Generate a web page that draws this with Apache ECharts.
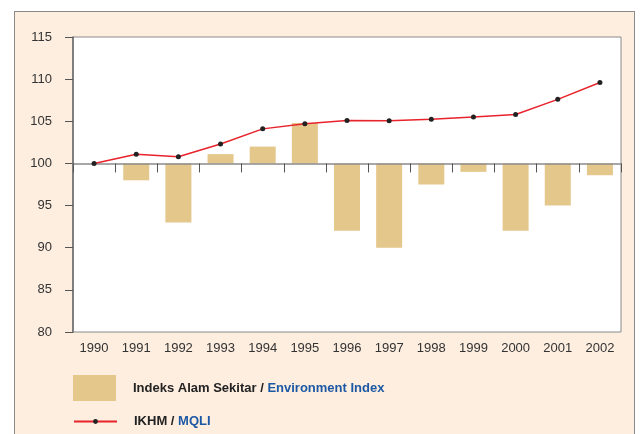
<!DOCTYPE html>
<html>
<head>
<meta charset="utf-8">
<script src="https://cdn.jsdelivr.net/npm/echarts@6/dist/echarts.min.js"></script>
<style>
  html, body { margin: 0; padding: 0; background: #ffffff; }
  #frame { position: absolute; left: 14px; top: 11px; width: 621px; height: 440px;
           background: #fdeee0; border: 1px solid #8a8a8a; box-sizing: border-box; }
  #chart { position: absolute; left: 0; top: 0; width: 642px; height: 434px; }
</style>
</head>
<body>
<div id="frame"></div>
<div id="chart"></div>
<script>
const years = ['1990','1991','1992','1993','1994','1995','1996','1997','1998','1999','2000','2001','2002'];
const environmentIndex = [100, 98, 93, 101.1, 102, 104.8, 92, 90, 97.5, 99, 92, 95, 98.6];
const mqli = [100, 101.1, 100.8, 102.3, 104.1, 104.7, 105.1, 105.05, 105.25, 105.5, 105.8, 107.6, 109.6];
const yTicks = [80, 85, 90, 95, 100, 105, 110, 115];
const BASE = 100;

const chart = echarts.init(document.getElementById('chart'), null, { renderer: 'canvas' });
const font = 'Liberation Sans, Arial, sans-serif';

chart.setOption({
  backgroundColor: 'transparent',
  textStyle: { fontFamily: font },
  animation: false,
  grid: {
    left: 73, top: 37, right: 21, bottom: 102,
    show: true, backgroundColor: '#ffffff', borderColor: '#8a8a8a', borderWidth: 1
  },
  legend: [
    {
      data: ['Indeks Alam Sekitar'],
      left: 73, top: 375, padding: 0, itemWidth: 43, itemHeight: 26, icon: 'rect',
      selectedMode: false,
      formatter: () => '{a|Indeks Alam Sekitar / }{b|Environment Index}',
      textStyle: {
        padding: [0, 0, 0, 12],
        rich: {
          a: { fontWeight: 'bold', color: '#222222', fontSize: 13, fontFamily: font },
          b: { fontWeight: 'bold', color: '#1c58a4', fontSize: 13, fontFamily: font }
        }
      }
    },
    {
      data: ['IKHM'],
      left: 73, top: 415, padding: 0, itemWidth: 43, itemHeight: 6,
      selectedMode: false,
      formatter: () => '{a|IKHM / }{b|MQLI}',
      textStyle: {
        padding: [0, 0, 0, 12],
        rich: {
          a: { fontWeight: 'bold', color: '#222222', fontSize: 13, fontFamily: font },
          b: { fontWeight: 'bold', color: '#1c58a4', fontSize: 13, fontFamily: font }
        }
      }
    }
  ],
  xAxis: [
    {
      type: 'category', data: years, position: 'bottom', z: 3,
      axisLine: { onZero: true, lineStyle: { color: '#8a8a8a', width: 1.5 } },
      axisTick: { show: true, length: 9, lineStyle: { color: '#555555', width: 1 } },
      axisLabel: { show: false },
      splitLine: { show: false }
    },
    {
      type: 'category', data: years, position: 'bottom',
      axisLine: { show: false, onZero: false },
      axisTick: { show: false },
      axisLabel: { show: true, margin: 10, color: '#333333', fontSize: 13, fontFamily: font },
      splitLine: { show: false }
    }
  ],
  yAxis: {
    type: 'value', min: yTicks[0] - BASE, max: yTicks[yTicks.length - 1] - BASE, interval: 5,
    axisLine: { show: true, lineStyle: { color: '#6a6a6a', width: 1.5 } },
    axisTick: { show: true, length: 8, lineStyle: { color: '#555555' } },
    axisLabel: { margin: 21, color: '#333333', fontSize: 13, fontFamily: font,
                 formatter: v => String(v + BASE) },
    splitLine: { show: false }
  },
  series: [
    {
      name: 'Indeks Alam Sekitar', type: 'bar', xAxisIndex: 0,
      data: environmentIndex.map(v => +(v - BASE).toFixed(2)),
      barWidth: 26,
      itemStyle: { color: '#e4c78b' },
      z: 2
    },
    {
      name: 'IKHM', type: 'line', xAxisIndex: 0,
      data: mqli.map(v => +(v - BASE).toFixed(2)),
      symbol: 'circle', symbolSize: 5,
      itemStyle: { color: '#222222' },
      lineStyle: { color: '#e8232b', width: 1.5 },
      z: 5
    }
  ]
});
</script>
</body>
</html>
